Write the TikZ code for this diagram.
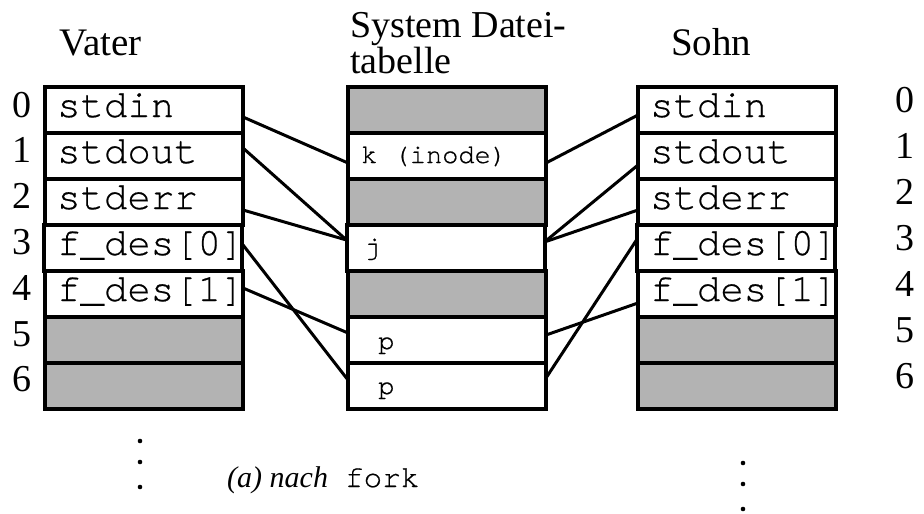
\documentclass[tikz,border=0pt]{standalone}
\usepackage{fontspec}
\setmainfont{Liberation Serif}
\setmonofont[FakeBold=0.5]{TeX Gyre Cursor}
\usetikzlibrary{calc}

\definecolor{slotgray}{RGB}{179,179,179}

\tikzset{
  cell/.style={draw, line width=4pt, minimum width=198pt, minimum height=46pt,
    inner sep=0pt, outer sep=0pt, fill=white, anchor=north west},
  freecell/.style={cell, fill=slotgray},
  entry/.style={anchor=base west, inner sep=0pt, font=\fontsize{39}{39}\selectfont\ttfamily},
  smallentry/.style={anchor=base west, inner sep=0pt, font=\fontsize{27}{27}\selectfont\ttfamily},
  index/.style={anchor=base, inner sep=0pt, font=\fontsize{38}{38}\selectfont},
  heading/.style={anchor=base west, inner sep=0pt, font=\fontsize{39}{39}\selectfont},
  link/.style={line width=3pt},
  dotmark/.style={fill, circle, inner sep=0pt, minimum size=4.6pt},
}

\begin{document}
\begin{tikzpicture}[x=1pt, y=-1pt]
  \useasboundingbox (0,0) rectangle (924,514);

  % headings
  \node[heading] (vater) at (59,55) {Vater};
  \node[heading, font=\fontsize{38}{38}\selectfont] (systab1) at (350,37) {System Datei-};
  \node[heading, font=\fontsize{38}{38}\selectfont] (systab2) at (350,73) {tabelle};
  \node[heading] (sohn) at (671,55) {Sohn};

  % file descriptor table of the parent
  \node[cell] (v0) at (45,87) {};
  \node[cell] (v1) at (45,133) {};
  \node[cell] (v2) at (45,179) {};
  \node[cell] (v3) at (43.5,225) {};
  \node[cell] (v4) at (45,271) {};
  \node[freecell] (v5) at (45,317) {};
  \node[freecell] (v6) at (45,363) {};

  \node[entry] (v0t) at ($(v0.north west)+(12,30)$) {stdin};
  \node[entry] (v1t) at ($(v1.north west)+(12,30)$) {stdout};
  \node[entry] (v2t) at ($(v2.north west)+(12,30)$) {stderr};
  \node[entry] (v3t) at ($(v3.north west)+(13.5,30)$) {f\_des[0]};
  \node[entry] (v4t) at ($(v4.north west)+(12,30)$) {f\_des[1]};

  \foreach \i in {0,...,6}
    \node[index] (vn\i) at (22,{117+45.8*\i}) {\i};

  % system file table
  \node[freecell] (m0) at (348,87) {};
  \node[cell] (m1) at (348,133) {};
  \node[freecell] (m2) at (348,179) {};
  \node[cell] (m3) at (346.5,225) {};
  \node[freecell] (m4) at (348,271) {};
  \node[cell] (m5) at (348,317) {};
  \node[cell] (m6) at (348,363) {};

  \node[smallentry] (m1t) at ($(m1.north west)+(13,30)$) {k (inode)};
  \node[smallentry] (m3t) at ($(m3.north west)+(17.5,30)$) {j};
  \node[smallentry] (m5t) at ($(m5.north west)+(30,32)$) {p};
  \node[smallentry] (m6t) at ($(m6.north west)+(30,31)$) {p};

  % file descriptor table of the child
  \node[cell] (s0) at (638,87) {};
  \node[cell] (s1) at (638,133) {};
  \node[cell] (s2) at (638,179) {};
  \node[cell] (s3) at (636.5,225) {};
  \node[cell] (s4) at (638,271) {};
  \node[freecell] (s5) at (638,317) {};
  \node[freecell] (s6) at (638,363) {};

  \node[entry] (s0t) at ($(s0.north west)+(12,30)$) {stdin};
  \node[entry] (s1t) at ($(s1.north west)+(12,30)$) {stdout};
  \node[entry] (s2t) at ($(s2.north west)+(12,30)$) {stderr};
  \node[entry] (s3t) at ($(s3.north west)+(13.5,30)$) {f\_des[0]};
  \node[entry] (s4t) at ($(s4.north west)+(12,30)$) {f\_des[1]};

  \foreach \i in {0,...,6}
    \node[index] (sn\i) at (905,{112+46*\i}) {\i};

  % connector end points
  \coordinate (v0o) at ($(v0.north east)+(0,30)$);
  \coordinate (v1o) at ($(v1.north east)+(0,15)$);
  \coordinate (v2o) at ($(v2.north east)+(0,31)$);
  \coordinate (v3o) at ($(v3.north east)+(0,18)$);
  \coordinate (v4o) at ($(v4.north east)+(0,17)$);

  \coordinate (m1i) at ($(m1.north west)+(0,30)$);
  \coordinate (m3i) at ($(m3.north west)+(0,15)$);
  \coordinate (m5i) at ($(m5.north west)+(0,16)$);
  \coordinate (m6i) at ($(m6.north west)+(0,17)$);

  \coordinate (m1o) at ($(m1.north east)+(0,30)$);
  \coordinate (m3o) at ($(m3.north east)+(0,17)$);
  \coordinate (m5o) at ($(m5.north east)+(0,18)$);
  \coordinate (m6o) at ($(m6.north east)+(0,15)$);

  \coordinate (s0i) at ($(s0.north west)+(0,28)$);
  \coordinate (s1i) at ($(s1.north west)+(0,32)$);
  \coordinate (s2i) at ($(s2.north west)+(0,31)$);
  \coordinate (s3i) at ($(s3.north west)+(0,15)$);
  \coordinate (s4i) at ($(s4.north west)+(0,32)$);

  % parent descriptors -> system file table
  \draw[link] (v0o) -- (m1i);
  \draw[link] (v1o) -- (m3i);
  \draw[link] (v2o) -- (m3i);
  \draw[link] (v3o) -- (m6i);
  \draw[link] (v4o) -- (m5i);

  % child descriptors -> system file table
  \draw[link] (m1o) -- (s0i);
  \draw[link] (m3o) -- (s1i);
  \draw[link] (m3o) -- (s2i);
  \draw[link] (m5o) -- (s4i);
  \draw[link] (m6o) -- (s3i);

  % continuation dots
  \node[dotmark] (vd1) at (140,441) {};
  \node[dotmark] (vd2) at (140,462) {};
  \node[dotmark] (vd3) at (140,487) {};
  \node[dotmark] (sd1) at (743,463) {};
  \node[dotmark] (sd2) at (743,484) {};
  \node[dotmark] (sd3) at (743,509) {};

  % caption
  \node[anchor=base west, inner sep=0pt, font=\fontsize{30}{30}\selectfont] (caption)
    at (227,487) {\textit{(a) nach}\hspace{17pt}{\fontsize{31}{31}\selectfont\ttfamily fork}};
\end{tikzpicture}
\end{document}
